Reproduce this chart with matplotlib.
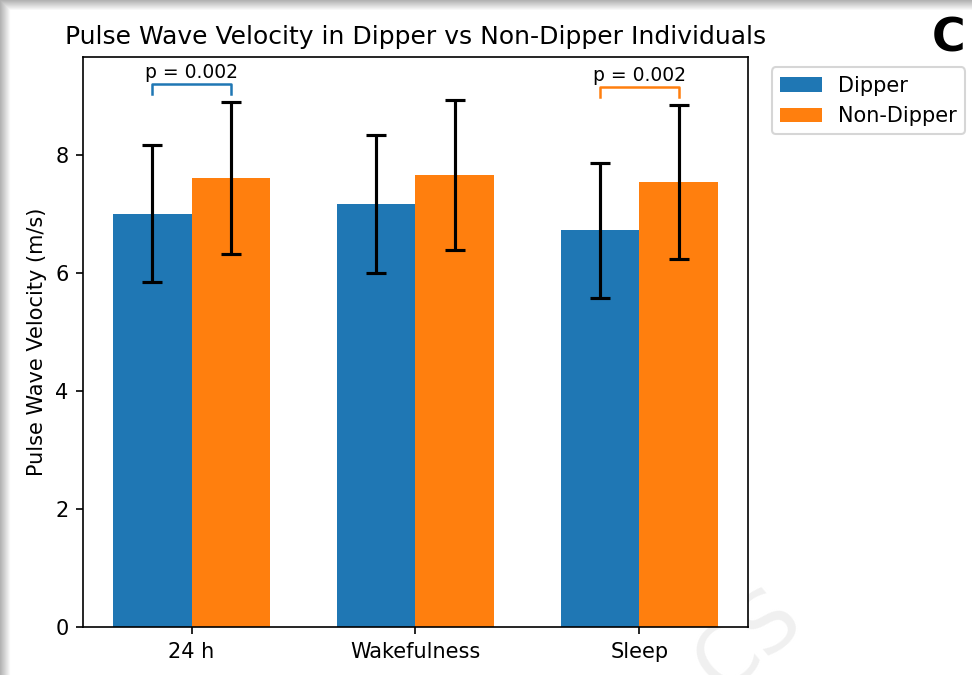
import numpy as np
import matplotlib
matplotlib.use("Agg")
import matplotlib.pyplot as plt

categories = ["24 h", "Wakefulness", "Sleep"]
dipper_mean = [7.00, 7.17, 6.72]
dipper_sd = [1.16, 1.17, 1.15]
nondipper_mean = [7.61, 7.66, 7.54]
nondipper_sd = [1.29, 1.27, 1.30]
# p-value brackets: (category index, label, colour)
brackets = [(0, "p = 0.002", "C0"), (2, "p = 0.002", "C1")]

fig = plt.figure(figsize=(6.48, 4.5), dpi=150)

# screenshot-like shadow along the top and left edges
bg = fig.add_axes([0, 0, 1, 1], zorder=-5)
h, w = 675, 972
yy, xx = np.mgrid[0:h, 0:w]
shade = np.ones((h, w))
top = np.clip((10 - yy) / 10.0, 0, 1)
left = np.clip((10 - xx) / 10.0, 0, 1)
shade = 1 - 0.3 * np.maximum(top, left)
bg.imshow(shade, cmap="gray", vmin=0, vmax=1, aspect="auto",
          extent=[0, 1, 0, 1], interpolation="bilinear")
bg.axis("off")

ax = fig.add_axes([0.0854, 0.0711, 0.6841, 0.8445])
x = np.arange(len(categories))
width = 0.35

ax.bar(x - width / 2, dipper_mean, width, yerr=dipper_sd, capsize=5,
       color="C0", label="Dipper", error_kw=dict(elinewidth=1.5, capthick=1.5))
ax.bar(x + width / 2, nondipper_mean, width, yerr=nondipper_sd, capsize=5,
       color="C1", label="Non-Dipper", error_kw=dict(elinewidth=1.5, capthick=1.5))

for i, label, col in brackets:
    top_err = max(dipper_mean[i] + dipper_sd[i], nondipper_mean[i] + nondipper_sd[i])
    y0 = top_err + 0.14
    y1 = y0 + 0.17
    ax.plot([x[i] - width / 2, x[i] - width / 2, x[i] + width / 2, x[i] + width / 2],
            [y0, y1, y1, y0], color=col, lw=1.2)
    ax.text(x[i], y1 + 0.03, label, ha="center", va="bottom", fontsize=9)

ax.set_xticks(x)
ax.set_xticklabels(categories)
ax.set_ylim(0, 9.66)
ax.set_ylabel("Pulse Wave Velocity (m/s)")
ax.set_title("Pulse Wave Velocity in Dipper vs Non-Dipper Individuals")
ax.legend(loc="upper left", bbox_to_anchor=(1.02, 1))

fig.text(0.993, 0.975, "C", ha="right", va="top", fontsize=22,
         fontweight="heavy", family="DejaVu Sans")
fig.text(0.77, 0.05, "CS", ha="center", va="center", fontsize=40,
         rotation=40, color="#f0f0f0", zorder=-1)

fig.savefig("out.png", dpi=150)
